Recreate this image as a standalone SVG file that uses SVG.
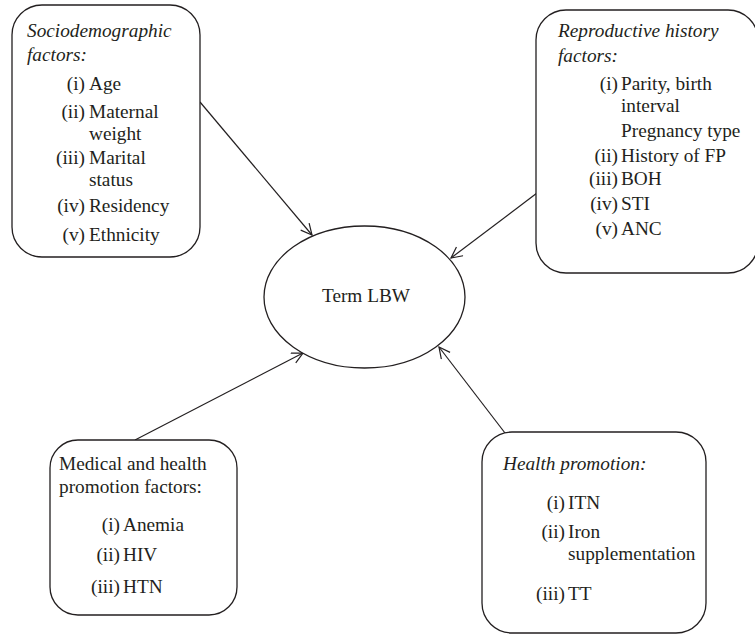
<svg xmlns="http://www.w3.org/2000/svg" width="755" height="635" viewBox="0 0 755 635">
<defs>
<style>
.box{fill:#ffffff;stroke:#231f20;stroke-width:1.3}
.t{font-family:"Liberation Serif","Times New Roman",serif;font-size:19.3px;fill:#231f20}
.i{font-style:italic}
.e{text-anchor:end}
.c{text-anchor:middle}
.conn{stroke:#231f20;stroke-width:1.2;fill:none;marker-end:url(#arr)}
</style>
<marker id="arr" markerUnits="userSpaceOnUse" markerWidth="16" markerHeight="16" refX="12" refY="6" orient="auto">
<path d="M1,0.5 L12,6 L1,11.5" fill="none" stroke="#231f20" stroke-width="1.2"/>
</marker>
</defs>
<rect width="755" height="635" fill="#ffffff"/>
<g id="connectors">
<line class="conn" x1="200" y1="102" x2="312" y2="235"/>
<line class="conn" x1="537" y1="193" x2="451" y2="258"/>
<line class="conn" x1="135" y1="440" x2="303" y2="353"/>
<line class="conn" x1="505" y1="433" x2="439" y2="347"/>
</g>
<g id="term-lbw">
<ellipse class="box" cx="364.5" cy="297" rx="100.5" ry="71"/>
<text class="t c" x="366" y="302">Term LBW</text>
</g>
<g id="sociodemographic">
<rect class="box" x="12" y="5" width="188" height="252" rx="30" ry="30"/>
<text class="t i" x="27" y="37">Sociodemographic<tspan x="27" y="61">factors:</tspan></text>
<text class="t e" x="85" y="90">(i)</text><text class="t" x="89" y="90">Age</text>
<text class="t e" x="85" y="118">(ii)</text><text class="t" x="89" y="118">Maternal<tspan x="89" y="140">weight</tspan></text>
<text class="t e" x="85" y="164">(iii)</text><text class="t" x="89" y="164">Marital<tspan x="89" y="186">status</tspan></text>
<text class="t e" x="85" y="212">(iv)</text><text class="t" x="89" y="212">Residency</text>
<text class="t e" x="85" y="241">(v)</text><text class="t" x="89" y="241">Ethnicity</text>
</g>
<g id="reproductive">
<rect class="box" x="536" y="10" width="222" height="263" rx="30" ry="30"/>
<text class="t i" x="558" y="37">Reproductive history<tspan x="558" y="62">factors:</tspan></text>
<text class="t e" x="618" y="90">(i)</text><text class="t" x="621" y="90">Parity, birth<tspan x="621" y="112">interval</tspan></text>
<text class="t" x="621" y="137">Pregnancy type</text>
<text class="t e" x="618" y="162">(ii)</text><text class="t" x="621" y="162">History of FP</text>
<text class="t e" x="618" y="185">(iii)</text><text class="t" x="621" y="185">BOH</text>
<text class="t e" x="618" y="210">(iv)</text><text class="t" x="621" y="210">STI</text>
<text class="t e" x="618" y="235">(v)</text><text class="t" x="621" y="235">ANC</text>
</g>
<g id="medical">
<rect class="box" x="50" y="440" width="187" height="175" rx="28" ry="28"/>
<text class="t" x="59" y="470">Medical and health<tspan x="59" y="493">promotion factors:</tspan></text>
<text class="t e" x="120" y="531">(i)</text><text class="t" x="123" y="531">Anemia</text>
<text class="t e" x="120" y="561">(ii)</text><text class="t" x="123" y="561">HIV</text>
<text class="t e" x="120" y="593">(iii)</text><text class="t" x="123" y="593">HTN</text>
</g>
<g id="health-promotion">
<rect class="box" x="482" y="432" width="224" height="201" rx="30" ry="30"/>
<text class="t i" x="503" y="470">Health promotion:</text>
<text class="t e" x="565" y="509">(i)</text><text class="t" x="568" y="509">ITN</text>
<text class="t e" x="565" y="538">(ii)</text><text class="t" x="568" y="538">Iron<tspan x="568" y="560">supplementation</tspan></text>
<text class="t e" x="565" y="600">(iii)</text><text class="t" x="568" y="600">TT</text>
</g>
</svg>
